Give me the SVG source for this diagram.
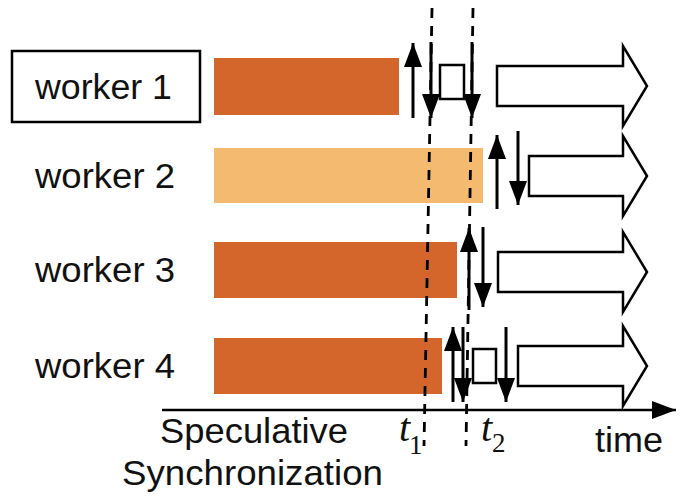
<svg xmlns="http://www.w3.org/2000/svg" width="680" height="500" viewBox="0 0 680 500">
<defs>
<marker id="ah" viewBox="0 0 24 18" refX="24" refY="9" markerWidth="24" markerHeight="18" markerUnits="userSpaceOnUse" orient="auto">
<path d="M0,0 L24,9 L0,18 z" fill="#000"/>
</marker>
<style>
.lbl{font-family:"Liberation Sans",Arial,sans-serif;font-size:35px;fill:#111}
.t{font-family:"Liberation Serif","Times New Roman",serif;font-style:italic;font-size:40px;fill:#111}
.sub{font-family:"Liberation Serif","Times New Roman",serif;font-size:27px;fill:#111}
.dark{fill:#D4662B}
.light{fill:#F3BA70}
.arr{stroke:#000;stroke-width:3;fill:none;marker-end:url(#ah)}
.box{fill:#fff;stroke:#000;stroke-width:2.5}
.big{fill:#fff;stroke:#000;stroke-width:2.5;stroke-linejoin:miter}
.dash{stroke:#000;stroke-width:2.8;stroke-dasharray:10 8;fill:none}
</style>
</defs>
<rect width="680" height="500" fill="#fff"/>

<g id="worker1">
<rect x="12" y="51" width="188" height="71" fill="#fff" stroke="#000" stroke-width="2.5"/>
<text class="lbl" x="35" y="99" textLength="137" lengthAdjust="spacingAndGlyphs">worker 1</text>
<rect class="dark" x="214" y="58" width="185" height="57"/>
<path class="big" d="M497,66 H623 V46 L647,86 L623,126 V106 H497 Z"/>
</g>
<g id="worker2">
<text class="lbl" x="35" y="188" textLength="140" lengthAdjust="spacingAndGlyphs">worker 2</text>
<rect class="light" x="214" y="148" width="269" height="55"/>
<path class="big" d="M529,156 H623 V136 L647,176 L623,216 V196 H529 Z"/>
</g>
<g id="worker3">
<text class="lbl" x="35" y="282" textLength="140" lengthAdjust="spacingAndGlyphs">worker 3</text>
<rect class="dark" x="214" y="242" width="243" height="56"/>
<path class="big" d="M498,252 H623 V232 L647,272 L623,312 V292 H498 Z"/>
</g>
<g id="worker4">
<text class="lbl" x="35" y="378" textLength="140" lengthAdjust="spacingAndGlyphs">worker 4</text>
<rect class="dark" x="214" y="338" width="228" height="56"/>
<path class="big" d="M518,346 H623 V326 L647,366 L623,406 V386 H518 Z"/>
</g>

<g id="connectors">
<line class="dash" x1="432" y1="8" x2="424" y2="446"/>
<line class="dash" x1="473" y1="8" x2="466" y2="446"/>
<line class="arr" x1="413" y1="118" x2="413" y2="43"/>
<line class="arr" x1="431" y1="42" x2="431" y2="118"/>
<rect class="box" x="440" y="65" width="24" height="34"/>
<line class="arr" x1="472" y1="42" x2="472" y2="118"/>

<line class="arr" x1="497" y1="209" x2="497" y2="135"/>
<line class="arr" x1="518" y1="131" x2="518" y2="205"/>

<line class="arr" x1="469" y1="310" x2="469" y2="228"/>
<line class="arr" x1="483" y1="227" x2="483" y2="307"/>

<line class="arr" x1="453" y1="402" x2="453" y2="327"/>
<line class="arr" x1="463" y1="327" x2="463" y2="402"/>
<rect class="box" x="473" y="349" width="23" height="34"/>
<line class="arr" x1="506" y1="327" x2="506" y2="402"/>

<line x1="162" y1="410" x2="676" y2="410" stroke="#000" stroke-width="2.5" marker-end="url(#ah)"/>
</g>

<g id="labels">
<text class="lbl" x="160" y="443" textLength="188" lengthAdjust="spacingAndGlyphs">Speculative</text>
<text class="lbl" x="122" y="485" textLength="261" lengthAdjust="spacingAndGlyphs">Synchronization</text>
<text class="lbl" x="595" y="452" textLength="68" lengthAdjust="spacingAndGlyphs">time</text>
<text class="t" x="399" y="441">t</text><text class="sub" x="409" y="454">1</text>
<text class="t" x="481" y="441">t</text><text class="sub" x="492" y="452">2</text>
</g>
</svg>
